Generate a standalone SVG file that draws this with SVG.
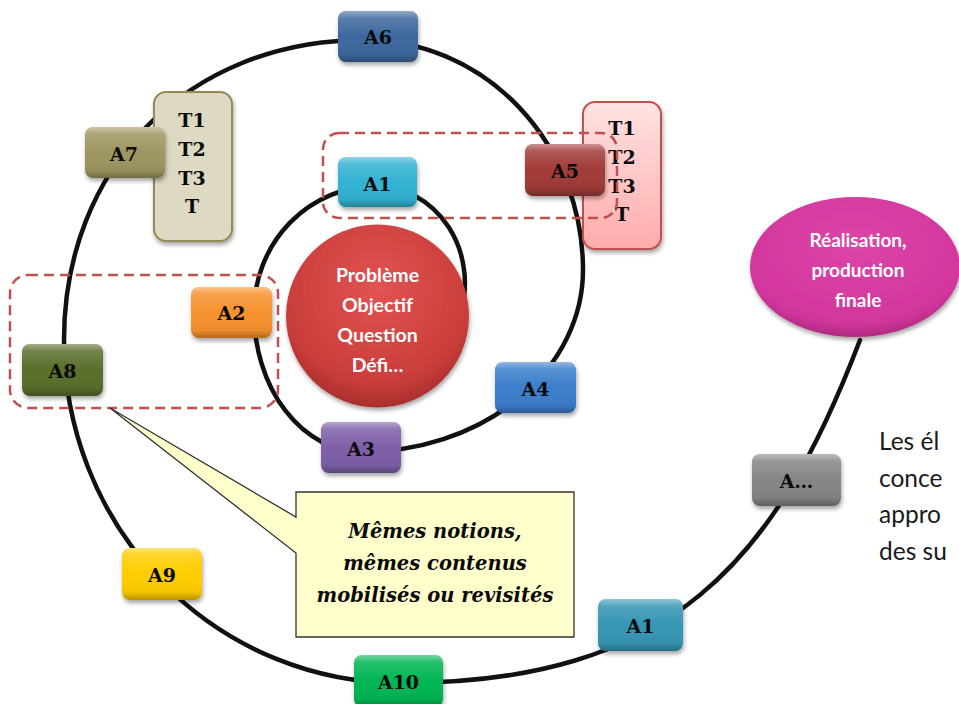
<svg xmlns="http://www.w3.org/2000/svg" width="959" height="704" viewBox="0 0 959 704">
<style>
  .spiral{fill:none;stroke:#111;stroke-width:4.5;stroke-linecap:round}
  .box{filter:url(#sh)}
  .bev{fill:url(#bevel)}
  .lbl{font-family:"DejaVu Serif","Liberation Serif",serif;font-weight:bold;font-size:19px;fill:#0a0a0a;text-anchor:middle}
  .tl{font-family:"DejaVu Serif","Liberation Serif",serif;font-weight:bold;font-size:19px;fill:#0a0a0a;text-anchor:middle}
  .wt{font-family:Lato,"Liberation Sans",sans-serif;font-weight:bold;font-size:19.5px;fill:#fff;text-anchor:middle}
  .wt2{font-family:Lato,"Liberation Sans",sans-serif;font-weight:bold;font-size:19px;fill:#fff;text-anchor:middle}
  .dash{fill:none;stroke:#c0504d;stroke-width:2.5;stroke-dasharray:10 6}
  .call{font-family:"DejaVu Serif","Liberation Serif",serif;font-weight:bold;font-style:italic;font-size:19.5px;fill:#0a0a0a;text-anchor:middle}
  .side{font-family:Lato,"Liberation Sans",sans-serif;font-size:24.5px;fill:#1a1a1a}
</style>
<defs>
  <filter id="sh" x="-20%" y="-20%" width="150%" height="160%">
    <feDropShadow dx="1" dy="3" stdDeviation="2" flood-color="#000" flood-opacity="0.35"/>
  </filter>
  <linearGradient id="bevel" x1="0" y1="0" x2="0" y2="1">
    <stop offset="0" stop-color="#fff" stop-opacity="0.45"/>
    <stop offset="0.14" stop-color="#fff" stop-opacity="0.15"/>
    <stop offset="0.5" stop-color="#fff" stop-opacity="0"/>
    <stop offset="0.85" stop-color="#000" stop-opacity="0.05"/>
    <stop offset="1" stop-color="#000" stop-opacity="0.28"/>
  </linearGradient>
  <radialGradient id="redg" cx="0.5" cy="0.35" r="0.65">
    <stop offset="0" stop-color="#e25353"/>
    <stop offset="0.8" stop-color="#c93d3b"/>
    <stop offset="1" stop-color="#a82e2c"/>
  </radialGradient>
  <radialGradient id="magg" cx="0.5" cy="0.35" r="0.65">
    <stop offset="0" stop-color="#dc45a8"/>
    <stop offset="0.85" stop-color="#d2369c"/>
    <stop offset="1" stop-color="#b02a82"/>
  </radialGradient>
  <linearGradient id="pinkg" x1="0" y1="0" x2="0" y2="1">
    <stop offset="0" stop-color="#ffe3e3"/>
    <stop offset="1" stop-color="#ffabab"/>
  </linearGradient>
</defs>

<g id="connectors">
  <path class="spiral" d="M459.6,316 A89,97 0 0 0 376,186 A122,126 0 0 0 254,312 A108,140 0 0 0 362,452 A221,182 0 0 0 583,270 A218,230 0 0 0 365,40 C185,40 64,170 64,340 A336,343 0 0 0 400,683 C671,683 775,563 860,340"/>
</g>

<g id="tasks-left">
  <rect x="154" y="92" width="78" height="149" rx="12" fill="#ddd9c3" stroke="#948a54" stroke-width="2" class="box"/>
  <text class="tl" x="192" y="127">T1</text>
  <text class="tl" x="192" y="156">T2</text>
  <text class="tl" x="192" y="185">T3</text>
  <text class="tl" x="192" y="213">T</text>
</g>

<g id="tasks-right">
  <rect x="583" y="102" width="78" height="147" rx="12" fill="url(#pinkg)" stroke="#c0504d" stroke-width="2" class="box"/>
  <text class="tl" x="622" y="135">T1</text>
  <text class="tl" x="622" y="164">T2</text>
  <text class="tl" x="622" y="193">T3</text>
  <text class="tl" x="622" y="221">T</text>
</g>

<g id="center">
  <circle cx="377.5" cy="316" r="91.5" fill="url(#redg)" class="box"/>
  <text class="wt" x="377.5" y="282">Problème</text>
  <text class="wt" x="377.5" y="312">Objectif</text>
  <text class="wt" x="377.5" y="342">Question</text>
  <text class="wt" x="377.5" y="372">Défi…</text>
</g>

<g id="final">
  <ellipse cx="855" cy="267" rx="105" ry="70" fill="url(#magg)" class="box"/>
  <text class="wt2" x="858" y="247">Réalisation,</text>
  <text class="wt2" x="858" y="277">production</text>
  <text class="wt2" x="858" y="307">finale</text>
</g>

<g id="A6"><rect class="box" x="338" y="11" width="80" height="51" rx="8" fill="#3c679e"/><rect class="bev" x="338" y="11" width="80" height="51" rx="8"/><text class="lbl" x="378" y="44">A6</text></g>
<g id="A1"><rect class="box" x="338" y="157" width="79" height="50" rx="8" fill="#33b2d2"/><rect class="bev" x="338" y="157" width="79" height="50" rx="8"/><text class="lbl" x="377.5" y="191">A1</text></g>
<g id="A7"><rect class="box" x="85" y="127" width="80" height="51" rx="8" fill="#9e9660"/><rect class="bev" x="85" y="127" width="80" height="51" rx="8"/><text class="lbl" x="124" y="161">A7</text></g>
<g id="A5"><rect class="box" x="525" y="144" width="80" height="52" rx="8" fill="#a13a37"/><rect class="bev" x="525" y="144" width="80" height="52" rx="8"/><text class="lbl" x="565" y="178">A5</text></g>
<g id="A2"><rect class="box" x="191" y="287" width="81" height="51" rx="8" fill="#f7922e"/><rect class="bev" x="191" y="287" width="81" height="51" rx="8"/><text class="lbl" x="231.5" y="320">A2</text></g>
<g id="A8"><rect class="box" x="22" y="344" width="81" height="52" rx="8" fill="#5a6e2c"/><rect class="bev" x="22" y="344" width="81" height="52" rx="8"/><text class="lbl" x="62.5" y="378">A8</text></g>
<g id="A3"><rect class="box" x="321" y="422" width="80" height="51" rx="8" fill="#7e5fa8"/><rect class="bev" x="321" y="422" width="80" height="51" rx="8"/><text class="lbl" x="361" y="456">A3</text></g>
<g id="A4"><rect class="box" x="495" y="362" width="81" height="51" rx="8" fill="#3a7ecb"/><rect class="bev" x="495" y="362" width="81" height="51" rx="8"/><text class="lbl" x="535.5" y="396">A4</text></g>
<g id="A9"><rect class="box" x="122" y="548" width="80" height="52" rx="8" fill="#ffcc00"/><rect class="bev" x="122" y="548" width="80" height="52" rx="8"/><text class="lbl" x="162" y="582">A9</text></g>
<g id="A10"><rect class="box" x="354" y="655" width="89" height="52" rx="8" fill="#00b553"/><rect class="bev" x="354" y="655" width="89" height="52" rx="8"/><text class="lbl" x="398.5" y="689">A10</text></g>
<g id="A1b"><rect class="box" x="598" y="599" width="85" height="52" rx="8" fill="#3696b3"/><rect class="bev" x="598" y="599" width="85" height="52" rx="8"/><text class="lbl" x="640.5" y="633">A1</text></g>
<g id="Amore"><rect class="box" x="752" y="454" width="89" height="52" rx="8" fill="#858585"/><rect class="bev" x="752" y="454" width="89" height="52" rx="8"/><text class="lbl" x="796.5" y="488">A…</text></g>

<g id="group-top">
  <rect class="dash" x="323" y="133" width="294" height="85" rx="16"/>
</g>
<g id="group-left">
  <rect class="dash" x="10" y="275" width="268" height="133" rx="18"/>
</g>

<g id="callout">
  <path d="M296,492 H574 V637 H296 V553 L110,408 L296,517 Z" fill="#ffffcc" stroke="#333" stroke-width="1.3"/>
  <text class="call" x="435" y="538">Mêmes notions,</text>
  <text class="call" x="435" y="570">mêmes contenus</text>
  <text class="call" x="435" y="602">mobilisés ou revisités</text>
</g>

<g id="side-text">
  <text class="side" x="879" y="450">Les él</text>
  <text class="side" x="879" y="487">conce</text>
  <text class="side" x="879" y="523">appro</text>
  <text class="side" x="879" y="560">des su</text>
</g>
</svg>
